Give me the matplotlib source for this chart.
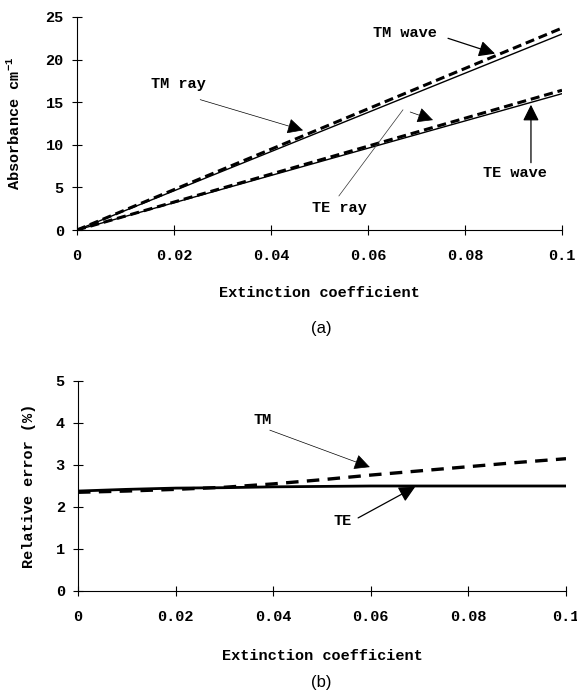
import numpy as np
import matplotlib
matplotlib.use('Agg')
import matplotlib.pyplot as plt

plt.rcParams['mathtext.fontset'] = 'custom'
plt.rcParams['mathtext.rm'] = 'Liberation Mono:bold'
plt.rcParams['lines.scale_dashes'] = False

# data
ext = [0, 0.01, 0.02, 0.03, 0.04, 0.05, 0.06, 0.07, 0.08, 0.09, 0.1]
tm_wave = [0, 2.37, 4.74, 7.11, 9.48, 11.85, 14.22, 16.59, 18.96, 21.33, 23.7]
tm_ray = [0, 2.3, 4.6, 6.9, 9.2, 11.5, 13.8, 16.1, 18.4, 20.7, 23.0]
te_wave = [0, 1.64, 3.28, 4.92, 6.56, 8.2, 9.84, 11.48, 13.12, 14.76, 16.4]
te_ray = [0, 1.6, 3.2, 4.8, 6.4, 8.0, 9.6, 11.2, 12.8, 14.4, 16.0]

tm_err = [2.35, 2.38, 2.42, 2.47, 2.55, 2.65, 2.76, 2.86, 2.96, 3.06, 3.15]
te_err = [2.38, 2.42, 2.45, 2.46, 2.48, 2.49, 2.5, 2.5, 2.5, 2.5, 2.5]

xticks = [0, 0.02, 0.04, 0.06, 0.08, 0.1]
xticklabels = ['0', '0.02', '0.04', '0.06', '0.08', '0.1']

mono = dict(family='Liberation Mono', weight='bold', size=11)
W, H = 577, 697

fig = plt.figure(figsize=(W/100, H/100), dpi=100)


def setup(ax, ylim, yticks):
    ax.set_xlim(0, 0.1)
    ax.set_ylim(*ylim)
    for s in ['top', 'right']:
        ax.spines[s].set_visible(False)
    for s in ['left', 'bottom']:
        ax.spines[s].set_linewidth(0.8)
    ax.set_xticks(xticks)
    ax.set_xticklabels(xticklabels, fontdict=mono)
    ax.set_yticks(yticks)
    ax.set_yticklabels([str(v) for v in yticks], fontdict=mono)
    ax.tick_params(direction='inout', length=7, width=0.8)
    ax.tick_params(axis='x', pad=10)
    ax.tick_params(axis='y', pad=6)


def arrow(ax, start, tip, lw=0.9, color='black'):
    ax.annotate('', xy=tip, xytext=start,
                arrowprops=dict(arrowstyle='-|>,head_length=0.7,head_width=0.35',
                                lw=lw, color=color, shrinkA=0, shrinkB=0,
                                mutation_scale=14))


# (a) absorbance
ax1 = fig.add_axes([77/W, 1-230/H, 485/W, 213/H])
setup(ax1, (0, 25), [0, 5, 10, 15, 20, 25])
ax1.plot(ext, tm_wave, color='black', lw=2.2, dashes=(6.5, 3.5))
ax1.plot(ext, tm_ray, color='black', lw=1.0)
ax1.plot(ext, te_wave, color='black', lw=2.2, dashes=(6.5, 3.5))
ax1.plot(ext, te_ray, color='black', lw=1.0)
ax1.set_xlabel('Extinction coefficient', fontdict=mono, labelpad=17)
ax1.set_ylabel('Absorbance cm$^{-1}$', fontdict=mono, labelpad=16)

ax1.text(0.0676, 23.1, 'TM wave', ha='center', va='center', **mono)
arrow(ax1, (0.0765, 22.5), (0.0862, 20.7))
ax1.text(0.0208, 17.1, 'TM ray', ha='center', va='center', **mono)
arrow(ax1, (0.0254, 15.3), (0.0466, 11.7), lw=0.5)
ax1.text(0.0542, 2.6, 'TE ray', ha='center', va='center', **mono)
ax1.plot([0.054, 0.0672], [4.0, 14.1], color='#333333', lw=0.5)
arrow(ax1, (0.0687, 13.85), (0.0734, 12.9), lw=0.5)
ax1.text(0.0903, 6.7, 'TE wave', ha='center', va='center', **mono)
arrow(ax1, (0.0936, 7.9), (0.0936, 14.7))

fig.text(321/W, 1-328/H, '(a)', ha='center', va='center',
         family='Liberation Sans', size=12)

# (b) relative error
ax2 = fig.add_axes([78/W, 1-591/H, 488/W, 210/H])
setup(ax2, (0, 5), [0, 1, 2, 3, 4, 5])
ax2.plot(ext, tm_err, color='black', lw=2.4, dashes=(9, 6))
ax2.plot(ext, te_err, color='black', lw=2.0)
ax2.set_xlabel('Extinction coefficient', fontdict=mono, labelpad=18)
ax2.set_ylabel('Relative error (%)', fontdict=mono, labelpad=14)

ax2.text(0.0379, 4.07, 'TM', ha='center', va='center', **mono)
arrow(ax2, (0.0393, 3.83), (0.0598, 2.95), lw=0.5)
ax2.text(0.0543, 1.67, 'TE', ha='center', va='center', **mono)
arrow(ax2, (0.0574, 1.74), (0.0691, 2.48))

fig.text(321/W, 1-683/H, '(b)', ha='center', va='center',
         family='Liberation Sans', size=12)

fig.savefig('out.png', dpi=100)
